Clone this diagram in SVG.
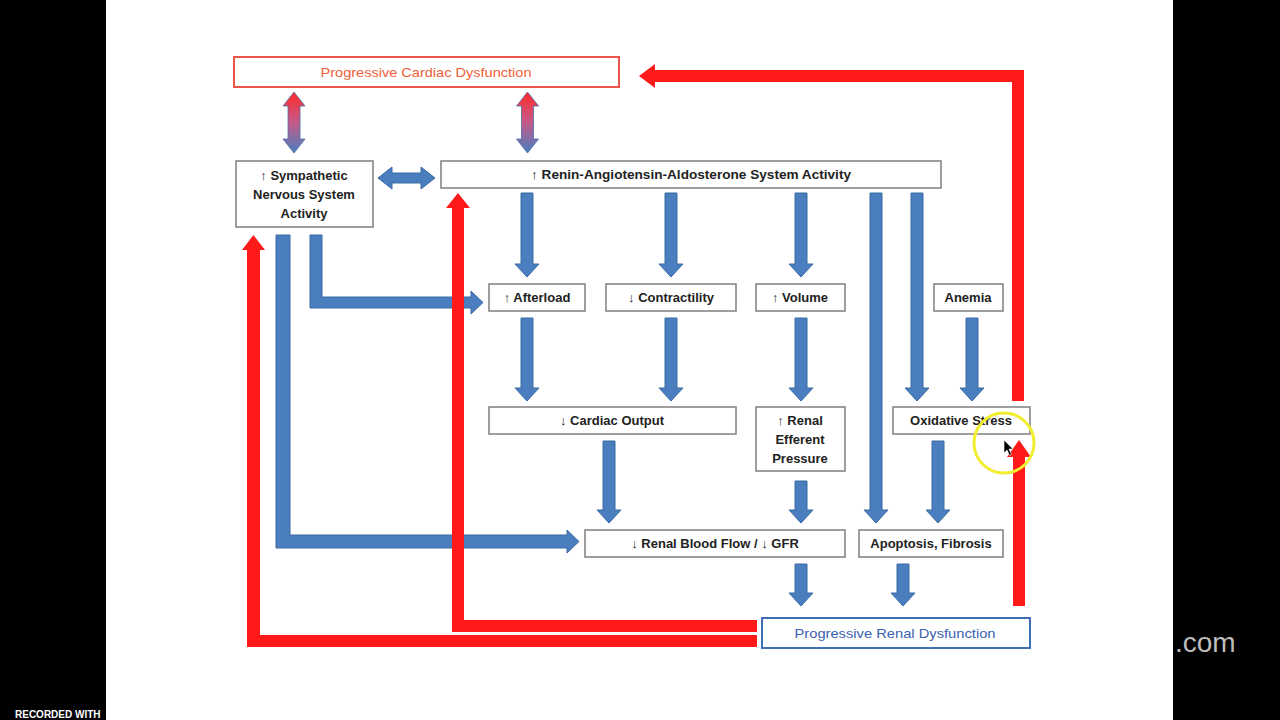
<svg xmlns="http://www.w3.org/2000/svg" width="1280" height="720" viewBox="0 0 1280 720">
<defs>
<linearGradient id="rb" x1="0" y1="0" x2="0" y2="1">
<stop offset="0" stop-color="#ff2a2a"/>
<stop offset="0.5" stop-color="#c45a8a"/>
<stop offset="1" stop-color="#4a7ebf"/>
</linearGradient>
<style>
.box{fill:#fff;stroke:#7f7f7f;stroke-width:1.5}
.t{font-family:"Liberation Sans",Arial,sans-serif;font-size:13px;font-weight:bold;fill:#222;text-anchor:middle}
.blue{fill:#4a7ebf;stroke:#3a6aa3;stroke-width:1}
.red{fill:#ff1a1a}
.grad{fill:url(#rb);stroke:#4a6fa8;stroke-width:0.8}
</style>
</defs>
<rect x="0" y="0" width="1280" height="720" fill="#fff"/>
<rect x="0" y="0" width="106" height="720" fill="#000"/>
<rect x="1173" y="0" width="107" height="720" fill="#000"/>

<g id="connectors">
<path class="grad" d="M294 92 L305 106 H300 V139 H305 L294 153 L283 139 H288 V106 H283 Z"/>
<path class="grad" d="M527.5 92 L538.5 106 H533.5 V139 H538.5 L527.5 153 L516.5 139 H521.5 V106 H516.5 Z"/>
<path class="blue" d="M378 178 L392 167 V173 H421 V167 L435 178 L421 189 V183 H392 V189 Z"/>
<path class="blue" d="M521 193 H533 V264 H539 L527 277 L515 264 H521 Z"/>
<path class="blue" d="M665 193 H677 V264 H683 L671 277 L659 264 H665 Z"/>
<path class="blue" d="M795 193 H807 V264 H813 L801 277 L789 264 H795 Z"/>
<path class="blue" d="M870 193 H882 V510 H888 L876 523 L864 510 H870 Z"/>
<path class="blue" d="M911 193 H923 V388 H929 L917 401 L905 388 H911 Z"/>
<path class="blue" d="M966 318 H978 V388 H984 L972 401 L960 388 H966 Z"/>
<path class="blue" d="M521 318 H533 V388 H539 L527 401 L515 388 H521 Z"/>
<path class="blue" d="M665 318 H677 V388 H683 L671 401 L659 388 H665 Z"/>
<path class="blue" d="M795 318 H807 V388 H813 L801 401 L789 388 H795 Z"/>
<path class="blue" d="M603 441 H615 V510 H621 L609 523 L597 510 H603 Z"/>
<path class="blue" d="M795 481 H807 V510 H813 L801 523 L789 510 H795 Z"/>
<path class="blue" d="M932 441 H944 V510 H950 L938 523 L926 510 H932 Z"/>
<path class="blue" d="M795 564 H807 V593 H813 L801 606 L789 593 H795 Z"/>
<path class="blue" d="M897 564 H909 V593 H915 L903 606 L891 593 H897 Z"/>
<path class="blue" d="M310 235 H322 V297 H471 V291 L483 302.5 L471 314 V308 H310 Z"/>
<path class="blue" d="M276 235 H290 V535 H567 V530 L579 541.5 L567 553 V548 H276 Z"/>
<path class="red" d="M1012 401 V82 H655 V64 L639 76 L655 88 V70 H1024 V401 Z"/>
<path class="red" d="M1013 606 V457 H1007 L1019 440 L1031 457 H1025 V606 Z"/>
<path class="red" d="M757 632 H452 V208 H446 L458 193 L470 208 H464 V620 H757 Z"/>
<path class="red" d="M757 647 H247 V250 H242 L253.5 235 L265 250 H260 V635 H757 Z"/>
</g>

<g id="cardiac-dysfunction">
<rect x="234" y="57" width="385" height="30" fill="#fff" stroke="#e8534a" stroke-width="2"/>
<text x="426" y="77" class="t" style="font-weight:normal;fill:#f0603a" textLength="211" lengthAdjust="spacingAndGlyphs">Progressive Cardiac Dysfunction</text>
</g>
<g id="sns">
<rect class="box" x="236" y="161" width="137" height="66"/>
<text class="t" x="304" y="180">↑ Sympathetic</text>
<text class="t" x="304" y="199">Nervous System</text>
<text class="t" x="304" y="218">Activity</text>
</g>
<g id="raas">
<rect class="box" x="441" y="161" width="500" height="27"/>
<text class="t" x="691" y="179" textLength="320" lengthAdjust="spacingAndGlyphs">↑ Renin-Angiotensin-Aldosterone System Activity</text>
</g>
<g id="afterload">
<rect class="box" x="489" y="284" width="96" height="27"/>
<text class="t" x="537" y="302">↑ Afterload</text>
</g>
<g id="contractility">
<rect class="box" x="606" y="284" width="130" height="27"/>
<text class="t" x="671" y="302">↓ Contractility</text>
</g>
<g id="volume">
<rect class="box" x="756" y="284" width="89" height="27"/>
<text class="t" x="800" y="302">↑ Volume</text>
</g>
<g id="anemia">
<rect class="box" x="934" y="284" width="69" height="27"/>
<text class="t" x="968" y="302">Anemia</text>
</g>
<g id="cardiac-output">
<rect class="box" x="489" y="407" width="247" height="27"/>
<text class="t" x="612" y="425">↓ Cardiac Output</text>
</g>
<g id="renal-efferent">
<rect class="box" x="756" y="407" width="89" height="64"/>
<text class="t" x="800" y="425">↑ Renal</text>
<text class="t" x="800" y="444">Efferent</text>
<text class="t" x="800" y="463">Pressure</text>
</g>
<g id="oxidative-stress">
<rect class="box" x="893" y="407" width="137" height="27"/>
<text class="t" x="961" y="425">Oxidative Stress</text>
</g>
<g id="renal-blood-flow">
<rect class="box" x="585" y="530" width="260" height="27"/>
<text class="t" x="715" y="548">↓ Renal Blood Flow / ↓ GFR</text>
</g>
<g id="apoptosis">
<rect class="box" x="859" y="530" width="144" height="27"/>
<text class="t" x="931" y="548">Apoptosis, Fibrosis</text>
</g>
<g id="renal-dysfunction">
<rect x="762" y="618" width="268" height="30" fill="#fff" stroke="#3f6fb5" stroke-width="2"/>
<text x="895" y="638" class="t" style="font-weight:normal;fill:#3b5fb0" textLength="201" lengthAdjust="spacingAndGlyphs">Progressive Renal Dysfunction</text>
</g>

<circle cx="1004" cy="443" r="30" fill="none" stroke="#f2ee2e" stroke-width="3"/>
<path d="M1004 440 V453 L1007 450 L1009.5 455.5 L1011.5 454.5 L1009 449 L1013 449 Z" fill="#000" stroke="#fff" stroke-width="0.6"/>

<text x="1175" y="652" style="font-family:'Liberation Sans',Arial,sans-serif;font-size:28px;fill:#bdbdbd">.com</text>
<text x="15" y="718" style="font-family:'Liberation Sans',Arial,sans-serif;font-size:10px;font-weight:bold;fill:#fff">RECORDED WITH</text>
</svg>
